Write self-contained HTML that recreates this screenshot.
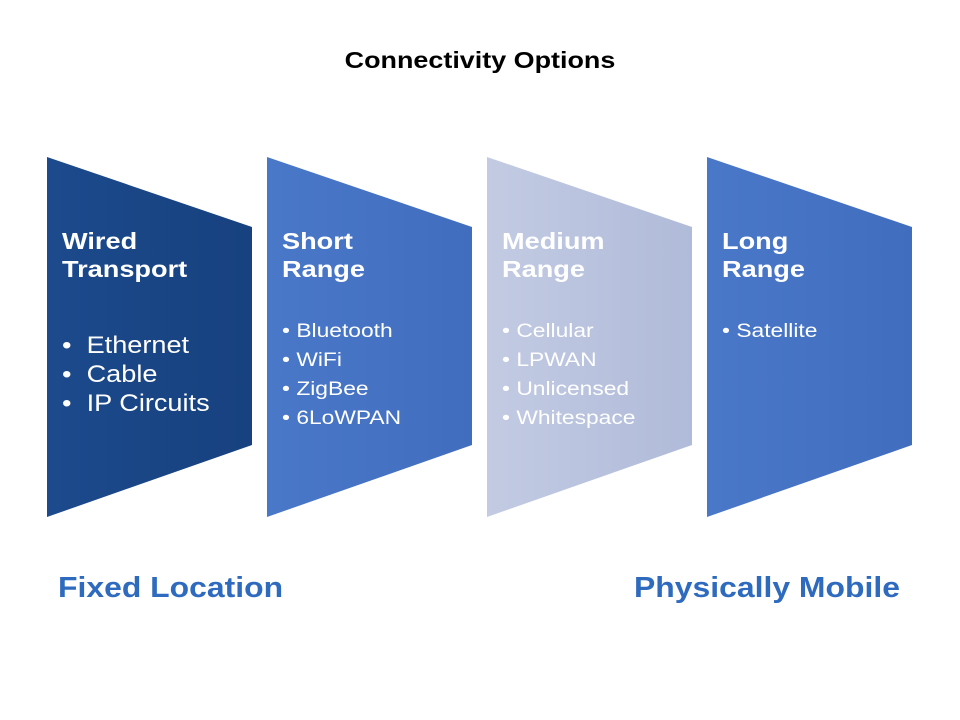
<!DOCTYPE html>
<html><head><style>
body{margin:0;width:960px;height:720px;background:#fff;position:relative;font-family:"Liberation Sans",Arial,sans-serif;overflow:hidden}
.t{position:absolute;color:#fff;transform-origin:0 0}
h1{position:absolute;top:47px;left:0;width:960px;text-align:center;font-size:23px;margin:0;font-weight:bold;color:#000;transform:scaleX(1.17);transform-origin:480px 0}
.h{font-weight:bold;font-size:23px;line-height:28px;transform:scaleX(1.18);transform-origin:0 0}
.l{font-size:19px;line-height:29px;transform:scaleX(1.2);transform-origin:0 0}
.lb{font-size:24px;line-height:29px;transform:scaleX(1.13);transform-origin:0 0}
.f{position:absolute;top:572px;font-size:29px;font-weight:bold;color:#2e6bbf;transform:scaleX(1.1);transform-origin:0 0}
</style></head><body>
<h1>Connectivity Options</h1>
<svg width="960" height="720" style="position:absolute;left:0;top:0">
<defs>
<linearGradient id="g1" x1="0" x2="1"><stop offset="0" stop-color="#1c4a8c"/><stop offset="1" stop-color="#17417f"/></linearGradient>
<linearGradient id="g2" x1="0" x2="1"><stop offset="0" stop-color="#4a78c8"/><stop offset="1" stop-color="#416dbf"/></linearGradient>
<linearGradient id="g3" x1="0" x2="1"><stop offset="0" stop-color="#c3cbe3"/><stop offset="1" stop-color="#b0bbd9"/></linearGradient>
</defs>
<polygon points="47,157 252,227 252,445 47,517" fill="url(#g1)"/>
<polygon points="267,157 472,227 472,445 267,517" fill="url(#g2)"/>
<polygon points="487,157 692,227 692,445 487,517" fill="url(#g3)"/>
<polygon points="707,157 912,227 912,445 707,517" fill="url(#g2)"/>
</svg>
<div class="t" style="left:62px;top:227px"><div class="h">Wired<br>Transport</div>
<div class="lb" style="margin-top:48px">•&nbsp; Ethernet<br>•&nbsp; Cable<br>•&nbsp; IP Circuits</div></div>
<div class="t" style="left:282px;top:227px"><div class="h">Short<br>Range</div>
<div class="l" style="margin-top:34px">•&nbsp;Bluetooth<br>•&nbsp;WiFi<br>•&nbsp;ZigBee<br>•&nbsp;6LoWPAN</div></div>
<div class="t" style="left:502px;top:227px"><div class="h">Medium<br>Range</div>
<div class="l" style="margin-top:34px">•&nbsp;Cellular<br>•&nbsp;LPWAN<br>•&nbsp;Unlicensed<br>•&nbsp;Whitespace</div></div>
<div class="t" style="left:722px;top:227px"><div class="h">Long<br>Range</div>
<div class="l" style="margin-top:34px">•&nbsp;Satellite</div></div>
<div class="f" style="left:58px">Fixed Location</div>
<div class="f" style="left:634px">Physically Mobile</div>
</body></html>
